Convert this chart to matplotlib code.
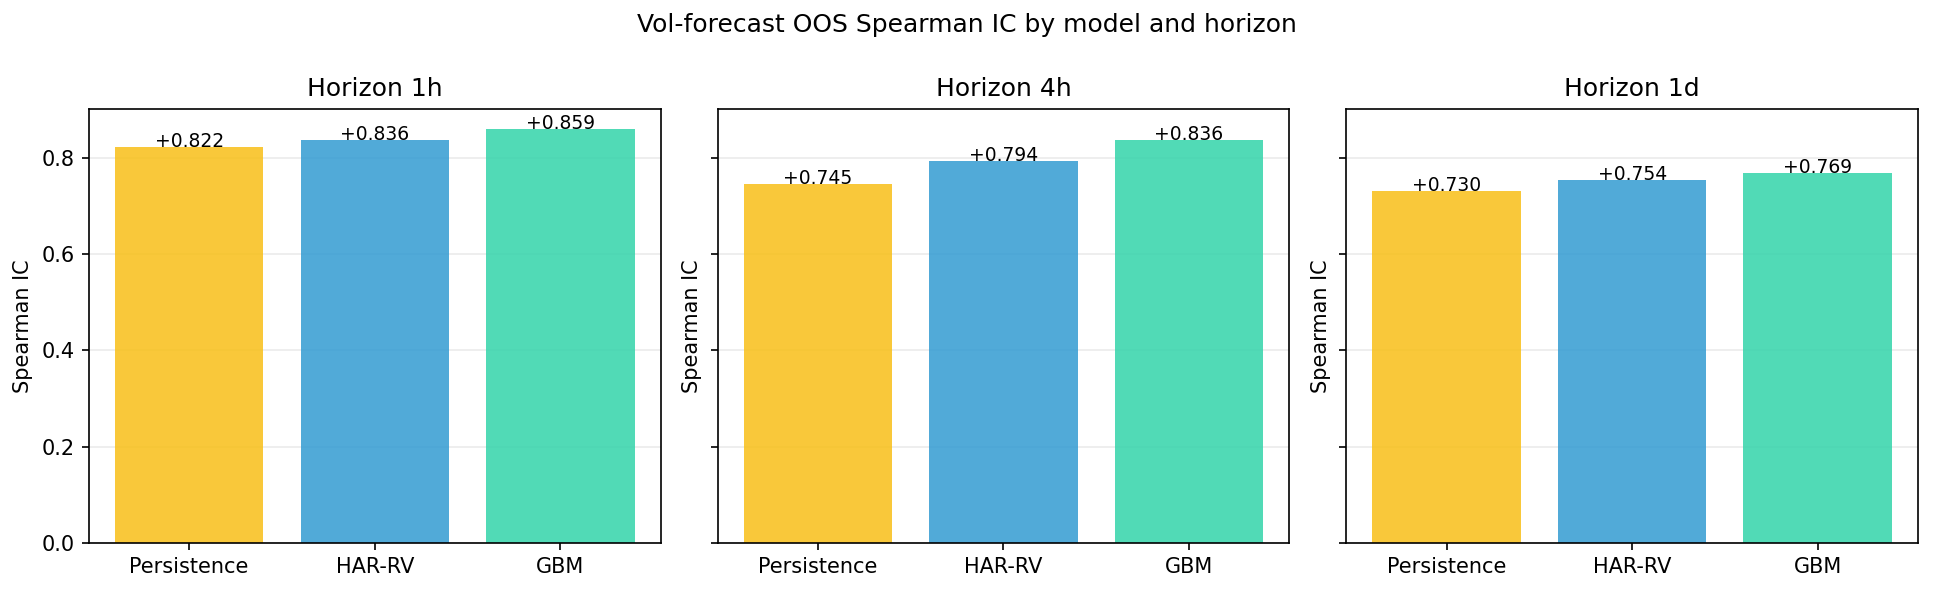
import matplotlib
matplotlib.use("Agg")
import matplotlib.pyplot as plt

models = ["Persistence", "HAR-RV", "GBM"]
horizons = ["1h", "4h", "1d"]
ic_1h = [0.822, 0.836, 0.859]
ic_4h = [0.745, 0.794, 0.836]
ic_1d = [0.730, 0.754, 0.769]
colors = ["#f8bf17", "#329bd2", "#33d4aa"]

fig, axes = plt.subplots(1, 3, figsize=(12.893, 3.96), dpi=150, sharey=True)
for ax, h, vals in zip(axes, horizons, [ic_1h, ic_4h, ic_1d]):
    ax.bar(models, vals, color=colors, alpha=0.85)
    for i, v in enumerate(vals):
        ax.text(i, v, f"{v:+.3f}", ha="center", va="baseline", fontsize=9)
    ax.set_title(f"Horizon {h}")
    ax.set_ylabel("Spearman IC")
    ax.grid(axis="y", alpha=0.25)
    ax.set_axisbelow(True)

fig.suptitle("Vol-forecast OOS Spearman IC by model and horizon", y=0.958, va="center")
fig.subplots_adjust(left=0.046, right=0.9917, top=0.817, bottom=0.086, wspace=0.1)
fig.savefig("out.png")
